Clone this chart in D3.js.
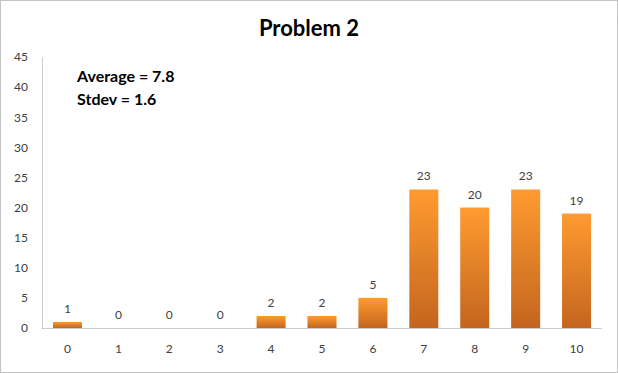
<!DOCTYPE html>
<html><head><meta charset="utf-8">
<script src="https://cdn.jsdelivr.net/npm/d3@7"></script>
<style>body{margin:0;background:#fff}svg{display:block}</style>
</head><body>
<svg id="c" width="618" height="373"></svg>
<script>
const categories = ["0","1","2","3","4","5","6","7","8","9","10"];
const counts = [1,0,0,0,2,2,5,23,20,23,19];
const yTicks = [0,5,10,15,20,25,30,35,40,45];
const title = "Problem 2";
const notes = ["Average = 7.8", "Stdev = 1.6"];

const svg = d3.select("#c");
const font = "Lato, 'Open Sans', sans-serif";
const m = {l:42, r:16, t:57, b:45};
const W = 618, H = 373;

svg.append("rect").attr("x",0.5).attr("y",0.5).attr("width",W-1).attr("height",H-1)
  .attr("fill","#fff").attr("stroke","#888").attr("stroke-dasharray","1,1");

const defs = svg.append("defs");
const g = defs.append("linearGradient").attr("id","bg").attr("x1",0).attr("y1",0).attr("x2",0).attr("y2",1);
g.append("stop").attr("offset","0%").attr("stop-color","#ff9b30");
g.append("stop").attr("offset","100%").attr("stop-color","#c4651f");

const x = d3.scaleBand().domain(categories).range([m.l, W-m.r]).paddingInner(0.43).paddingOuter(0.215);
const y = d3.scaleLinear().domain([0,45]).range([H-m.b, m.t]);

const ya = svg.append("g").attr("transform",`translate(${m.l},0)`)
  .call(d3.axisLeft(y).tickValues(yTicks).tickSize(0).tickPadding(14));
ya.select(".domain").attr("stroke","#999").attr("stroke-dasharray","1,1");
ya.selectAll("text").attr("font-family",font).attr("font-size",12).attr("fill","#404040");

const xa = svg.append("g").attr("transform",`translate(0,${H-m.b})`)
  .call(d3.axisBottom(x).tickSize(0).tickPadding(16));
xa.select(".domain").attr("stroke","#999").attr("stroke-dasharray","1,1");
xa.selectAll("text").attr("font-family",font).attr("font-size",12).attr("fill","#404040");

svg.selectAll("rect.bar").data(counts).join("rect").attr("class","bar")
  .attr("x",(d,i)=>x(categories[i])).attr("width",x.bandwidth())
  .attr("y",d=>y(d)).attr("height",d=>y(0)-y(d))
  .attr("fill","url(#bg)");

svg.selectAll("text.lbl").data(counts).join("text").attr("class","lbl")
  .attr("x",(d,i)=>x(categories[i])+x.bandwidth()/2).attr("y",d=>y(d)-9)
  .attr("text-anchor","middle").attr("font-family",font).attr("font-size",12).attr("fill","#404040")
  .text(d=>d);

svg.append("text").attr("x",309).attr("y",36).attr("text-anchor","middle")
  .attr("font-family",font).attr("font-weight","bold").attr("font-size",22).attr("fill","#000").text(title);

svg.selectAll("text.note").data(notes).join("text").attr("class","note")
  .attr("x",77).attr("y",(d,i)=>82+i*23)
  .attr("font-family",font).attr("font-weight","bold").attr("font-size",16).attr("fill","#000").text(d=>d);
</script>
</body></html>
